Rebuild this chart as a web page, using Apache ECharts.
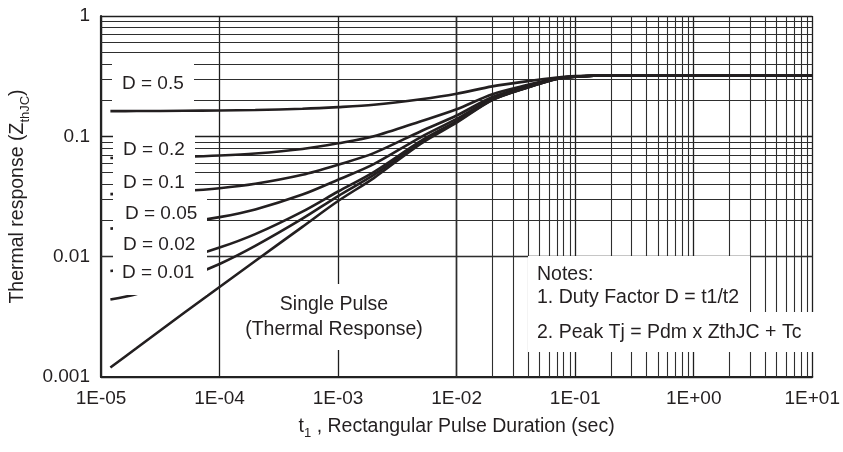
<!DOCTYPE html>
<html>
<head>
<meta charset="utf-8">
<script src="https://cdn.jsdelivr.net/npm/echarts@6/dist/echarts.min.js"></script>
<style>
html,body{margin:0;padding:0;background:#fff;}
#chart{width:843px;height:452px;}
</style>
</head>
<body>
<div id="chart"></div>
<script>
// ---- data ----
const tValues = [1.2e-5, 2e-5, 5e-5, 1e-4, 2e-4, 5e-4, 1e-3, 2e-3, 5e-3, 1e-2, 2e-2, 4e-2, 7e-2, 0.1, 0.2, 1, 10];
const zD05   = [0.1620, 0.1622, 0.1630, 0.1640, 0.1655, 0.1695, 0.1750, 0.1830, 0.2035, 0.226, 0.260, 0.2875, 0.308, 0.3165, 0.32, 0.32, 0.32];
const zD02   = [0.0660, 0.0664, 0.0677, 0.0693, 0.0720, 0.0785, 0.0875, 0.1000, 0.1336, 0.168, 0.224, 0.268, 0.304, 0.314, 0.32, 0.32, 0.32];
const zD01   = [0.0331, 0.0336, 0.0351, 0.0370, 0.0403, 0.0479, 0.0581, 0.0725, 0.1103, 0.149, 0.212, 0.2615, 0.302, 0.3137, 0.32, 0.32, 0.32];
const zD005  = [0.0171, 0.0177, 0.0192, 0.0213, 0.0247, 0.0328, 0.0436, 0.0588, 0.0987, 0.1395, 0.206, 0.2583, 0.301, 0.3134, 0.32, 0.32, 0.32];
const zD002  = [0.0076, 0.0081, 0.0097, 0.0119, 0.0154, 0.0237, 0.0348, 0.0505, 0.0917, 0.1338, 0.2024, 0.2563, 0.3004, 0.3131, 0.32, 0.32, 0.32];
const zD001  = [0.0044, 0.0049, 0.0066, 0.0087, 0.0123, 0.0207, 0.0319, 0.0478, 0.0893, 0.1319, 0.2012, 0.2557, 0.3002, 0.3131, 0.32, 0.32, 0.32];
const zSingle= [0.0012, 0.00174, 0.0034, 0.0056, 0.0092, 0.0177, 0.0290, 0.0450, 0.0870, 0.130, 0.200, 0.255, 0.300, 0.313, 0.32, 0.32, 0.32];

const xTickLabels = ['1E-05', '1E-04', '1E-03', '1E-02', '1E-01', '1E+00', '1E+01'];
const yTickLabels = ['0.001', '0.01', '0.1', '1'];
const xDecades = [1e-5, 1e-4, 1e-3, 1e-2, 1e-1, 1];
const yDecades = [1e-3, 1e-2, 1e-1];
const gridMultipliers = [2, 3, 4, 5, 6, 7, 8, 9];

// ---- build ----
const pairs = (ys) => tValues.map((t, i) => [t, ys[i]]);
const minorX = [];
xDecades.forEach(d => gridMultipliers.forEach(m => minorX.push({ xAxis: +(d * m).toPrecision(3) })));
const minorY = [];
yDecades.forEach(d => gridMultipliers.forEach(m => minorY.push({ yAxis: +(d * m).toPrecision(3) })));

const FONT = 'Liberation Sans, Arial, sans-serif';
const lineColor = '#231f20';
const txt = '#231f20';

const curve = (name, ys) => ({
  name: name, type: 'line', data: pairs(ys), showSymbol: false, smooth: 0.3,
  lineStyle: { color: lineColor, width: 2.6 }, z: 5, silent: true
});

const label = (x, y, text, size, align) => ({
  type: 'text', z: 101, x: x, y: y, silent: true,
  style: { text: text, fill: txt, font: size + 'px ' + FONT, textAlign: align || 'left', textVerticalAlign: 'middle' }
});
const box = (x, y, w, h) => ({ type: 'rect', z: 100, silent: true, shape: { x: x, y: y, width: w, height: h }, style: { fill: '#fff' } });

const chart = echarts.init(document.getElementById('chart'));
chart.setOption({
  animation: false,
  backgroundColor: '#fff',
  grid: { left: 101, top: 16, right: 27, bottom: 75, containLabel: false },
  xAxis: {
    type: 'log', logBase: 10, min: 1e-5, max: 10,
    axisLine: { show: true, lineStyle: { color: '#222', width: 2.2 } },
    axisTick: { show: false },
    splitLine: { show: true, lineStyle: { color: '#1e1e1e', width: 1.3 } },
    axisLabel: {
      margin: 12, color: txt, fontSize: 19, fontFamily: FONT,
      formatter: v => xTickLabels[Math.round(Math.log10(v)) + 5]
    },
    name: '{n|t}{s|1}{n| , Rectangular Pulse Duration (sec)}',
    nameLocation: 'middle', nameGap: 36,
    nameTextStyle: {
      color: txt, fontFamily: FONT,
      rich: { n: { fontSize: 19.5, fontFamily: FONT, color: txt }, s: { fontSize: 13, fontFamily: FONT, color: txt, padding: [14, 0, 0, 0] } }
    }
  },
  yAxis: {
    type: 'log', logBase: 10, min: 0.001, max: 1,
    axisLine: { show: true, lineStyle: { color: '#222', width: 2.2 } },
    axisTick: { show: false },
    splitLine: { show: true, lineStyle: { color: '#1e1e1e', width: 1.3 } },
    axisLabel: {
      margin: 11, color: txt, fontSize: 19, fontFamily: FONT,
      formatter: v => yTickLabels[Math.round(Math.log10(v)) + 3]
    },
    name: '{n|Thermal response }{n|(Z}{s|thJC}{n|)}',
    nameLocation: 'middle', nameGap: 58,
    nameTextStyle: {
      color: txt, fontFamily: FONT,
      rich: { n: { fontSize: 19.5, fontFamily: FONT, color: txt }, s: { fontSize: 13, fontFamily: FONT, color: txt, padding: [14, 0, 0, 0] } }
    }
  },
  series: [
    {
      name: 'grid', type: 'line', data: [], z: 1, silent: true,
      markLine: {
        silent: true, symbol: 'none', animation: false,
        label: { show: false },
        lineStyle: { color: '#2e2e2e', width: 1.1, type: 'solid' },
        emphasis: { disabled: true },
        data: minorX.concat(minorY)
      }
    },
    curve('D = 0.5', zD05),
    curve('D = 0.2', zD02),
    curve('D = 0.1', zD01),
    curve('D = 0.05', zD005),
    curve('D = 0.02', zD002),
    curve('D = 0.01', zD001),
    curve('Single Pulse', zSingle)
  ],
  graphic: [
    box(112, 63, 82, 38),
    box(113, 128, 82, 70),
    box(113, 198, 94, 97),
    box(237, 284, 190, 66),
    box(528, 256, 222, 56),
    box(528, 312, 287, 40),
    label(122, 84, 'D = 0.5', 19),
    label(123, 150, 'D = 0.2', 19),
    label(123, 183, 'D = 0.1', 19),
    label(125, 214, 'D = 0.05', 19),
    label(123, 245, 'D = 0.02', 19),
    label(122, 273, 'D = 0.01', 19),
    label(334, 305, 'Single Pulse', 19.5, 'center'),
    label(334, 330, '(Thermal Response)', 19.5, 'center'),
    label(537, 275, 'Notes:', 19.5),
    label(537, 298, '1. Duty Factor D = t1/t2', 19.5),
    label(537, 333, '2. Peak Tj = Pdm x ZthJC + Tc', 19.5)
  ]
});
</script>
</body>
</html>
